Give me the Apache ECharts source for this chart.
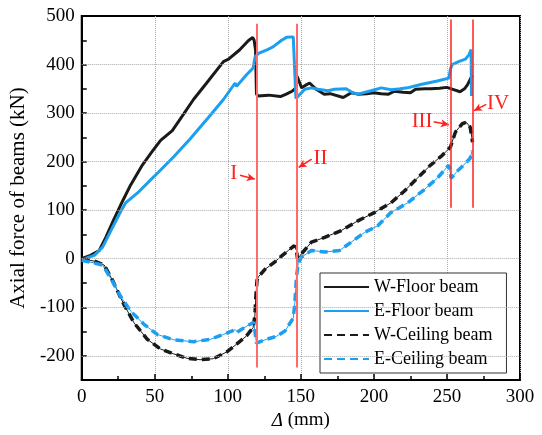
<!DOCTYPE html>
<html>
<head>
<meta charset="utf-8">
<script src="https://cdn.jsdelivr.net/npm/echarts@6/dist/echarts.min.js"></script>
<style>html,body{margin:0;padding:0;background:#fff}#c{width:542px;height:435px}</style>
</head>
<body>
<div id="c"></div>
<script>
// ---- data (displacement mm, axial force kN) ----
var W_floor = [[0,0],[6,7],[12,17],[16.5,44],[22,81],[28,119],[33.5,152],[41.5,193],[48,220],[54,244],[62,264],[67.5,288],[76.5,328],[85.5,362],[97,406],[100.5,411],[108,430],[114,449],[117,456],[118,450],[119,430],[119.6,340],[120.5,335],[128,337],[136,334],[140,339],[144,345],[146.6,352],[147.4,376],[148.5,372],[149.5,360],[150.5,352],[153,357],[156,362],[160.5,349],[166,339],[170,340],[179,332],[184.5,342],[189,339],[195,340],[200,342],[205,340],[210,339],[214,345],[220,343],[225,342],[228.5,349],[235,350],[239,350],[245,351],[250,353],[254,349],[259,344],[262,350],[264,358],[266,370],[267.5,378]];
var E_floor = [[0,-2],[8.6,7],[14.3,24],[20,58],[25.6,91],[30,115],[38,135],[49.4,169],[63,210],[74.3,247],[86.7,291],[97,328],[105,362],[106,355],[112.8,379],[117.3,393],[118.7,416],[121,423],[126.7,430],[131.2,437],[136.8,450],[140.2,456],[144.8,457],[146,455],[146.6,330],[148.2,335],[149.3,339],[152.7,349],[157.2,352],[161.8,349],[168.6,346],[173,349],[181,350],[185.6,342],[189,339],[198,346],[205,352],[212,348],[218,350],[223,352],[232,359],[243.4,366],[251.3,372],[252.4,391],[253.6,400],[258,406],[262.6,411],[265,420],[266.5,431],[266.8,335]];
var W_ceiling = [[0,0],[8.6,-5],[15.4,-13],[21,-44],[29,-95],[35.8,-132],[44.9,-166],[53.9,-186],[63,-196],[72,-205],[81,-208],[90,-206],[99.3,-192],[106,-176],[112.8,-159],[117.3,-142],[118.5,-118],[119.2,-78],[120,-44],[121,-37],[125.4,-22],[132,-7],[134.6,0],[141.4,17],[145.5,27],[147,17],[147.7,0],[150.4,10],[157.2,34],[166.3,44],[177.6,58],[189,78],[200.3,95],[211.6,115],[220.7,139],[229.8,166],[238.8,193],[246.8,213],[252.4,230],[255.8,261],[260.4,278],[263.3,281],[265.9,271],[267.2,247],[267.5,240]];
var E_ceiling = [[0,-3],[8.6,-9],[14.3,-13],[20,-41],[26.7,-78],[33.5,-108],[42.6,-135],[51.7,-156],[63,-167],[76.5,-171],[88,-166],[97,-156],[105,-146],[105.5,-143],[106.5,-151],[112.8,-139],[117.8,-131],[118.5,-135],[119.6,-174],[126.4,-166],[133.2,-160],[139.1,-149],[144.8,-122],[145.9,-91],[147,-37],[148.2,-10],[150.4,3],[157.2,17],[166.3,14],[176.5,17],[184.4,34],[193.5,54],[202.6,68],[211.6,95],[223,115],[234.3,142],[243.4,166],[251.3,193],[252.9,166],[256.9,180],[261.5,193],[265.9,207],[267.2,223]];

var seriesNames = ['W-Floor beam','E-Floor beam','W-Ceiling beam','E-Ceiling beam'];
// event lines: [x, yTop, yBottom]
var eventLines = [[120,484,-224],[147.5,484,-224],[252.5,493,105],[267.5,493,105]];
var eventLabels = ['I','II','III','IV'];
var labelPos = [[104,176],[163.5,207],[233,282],[285,320]];
var arrowFrom = [[108.3,172],[157.4,205],[240.9,282],[276.9,318]];
var arrowTo = [[118.5,164],[148.5,188],[251.3,276],[268.5,305]];
var yGridValues = [-200,-100,0,100,200,300,400];
var yLabelValues = [-200,-100,0,100,200,300,400,500];

var FONT = 'Liberation Serif';
var BLACK = '#1a1a1a', BLUE = '#1c9ff0', RED = '#ff2020';
var LINE_COLORS = ['#ff6a6a','#ff6a6a','#ff2020','#ff2020'];

var chart = echarts.init(document.getElementById('c'));

var redLines = eventLines.map(function(e,i){
  return [{coord:[e[0],e[1]], symbol:'none', lineStyle:{color:LINE_COLORS[i], width:i<2?2:1.5}},
          {coord:[e[0],e[2]], symbol:'none'}];
});
var arrows = arrowFrom.map(function(f,i){
  return [{coord:f, symbol:'none', lineStyle:{color:RED,width:1.5}},
          {coord:arrowTo[i], symbol:'arrow', symbolSize:[6,8]}];
});

function thin(name, data, color){
  return {name:name,type:'line',data:data,showSymbol:false,symbol:'none',silent:true,
    lineStyle:{color:color,width:1},z:3};
}

chart.setOption({
  animation:false,
  backgroundColor:'#fff',
  grid:{left:77,right:22,top:16,bottom:50,show:true,borderColor:'#000',borderWidth:2,backgroundColor:'transparent'},
  xAxis:{
    type:'value',min:0,max:300,interval:50,
    axisLine:{show:true,onZero:false,lineStyle:{color:'#000',width:2}},
    axisTick:{show:true,inside:true,length:6,lineStyle:{color:'#000',width:1.5}},
    minorTick:{show:true,splitNumber:2,length:4,lineStyle:{color:'#000',width:1.5}},
    axisLabel:{color:'#000',fontFamily:FONT,fontSize:19,margin:7},
    splitLine:{show:true,lineStyle:{type:'dotted',color:'#aaa',width:1}},
    name:'{i|Δ} (mm)',nameLocation:'middle',nameGap:30,
    nameTextStyle:{color:'#000',fontFamily:FONT,fontSize:19,rich:{i:{fontStyle:'italic',fontFamily:FONT,fontSize:19,color:'#000'}}}
  },
  yAxis:{
    type:'value',min:-250,max:500,interval:50,
    axisLine:{show:true,onZero:false,lineStyle:{color:'#000',width:2}},
    axisTick:{show:true,inside:true,length:5,lineStyle:{color:'#000',width:1.5}},
    axisLabel:{color:'#000',fontFamily:FONT,fontSize:19,margin:7,
      formatter:function(v){return yLabelValues.indexOf(v)>=0?String(v):'';}},
    splitLine:{show:false},
    name:'Axial force of beams (kN)',nameLocation:'middle',nameGap:45,
    nameTextStyle:{color:'#000',fontFamily:FONT,fontSize:21}
  },
  legend:{
    data:seriesNames,orient:'vertical',left:320,top:273,
    itemWidth:45,itemHeight:14,itemGap:6,
    padding:[5,14,5,3],
    itemStyle:{opacity:0},
    borderColor:'#333',borderWidth:1,backgroundColor:'#fff',
    textStyle:{fontFamily:FONT,fontSize:18,color:'#000',lineHeight:18}
  },
  series:[
    {name:'grid',type:'line',data:[],z:1,silent:true,
      markLine:{silent:true,symbol:['none','none'],label:{show:false},animation:false,
        lineStyle:{type:'dotted',color:'#aaa',width:1},
        data:yGridValues.map(function(v){return {yAxis:v};})}},
    {name:seriesNames[0],type:'line',data:W_floor,showSymbol:false,symbol:'none',
      lineStyle:{color:BLACK,width:3},itemStyle:{color:BLACK},z:3},
    {name:seriesNames[1],type:'line',data:E_floor,showSymbol:false,symbol:'none',
      lineStyle:{color:BLUE,width:3},itemStyle:{color:BLUE},z:3},
    thin('W-Ceiling thin', W_ceiling, BLACK),
    thin('E-Ceiling thin', E_ceiling, BLUE),
    {name:seriesNames[2],type:'line',data:W_ceiling,showSymbol:false,symbol:'none',
      lineStyle:{color:BLACK,width:3.5,type:[8,5]},itemStyle:{color:BLACK},z:3},
    {name:seriesNames[3],type:'line',data:E_ceiling,showSymbol:false,symbol:'none',
      lineStyle:{color:BLUE,width:3.5,type:[8,5]},itemStyle:{color:BLUE},z:3},
    {name:'events',type:'line',data:[],z:4,silent:true,
      markLine:{silent:true,label:{show:false},animation:false,
        lineStyle:{type:'solid',color:RED,width:1.5},
        data:redLines.concat(arrows)},
      markPoint:{silent:true,symbol:'circle',symbolSize:1,itemStyle:{color:'rgba(0,0,0,0)'},
        label:{show:true,position:'inside',color:RED,fontFamily:FONT,fontSize:21,formatter:'{b}'},
        data:labelPos.map(function(p,i){return {name:eventLabels[i],coord:p};})}}
  ]
});
</script>
</body>
</html>
